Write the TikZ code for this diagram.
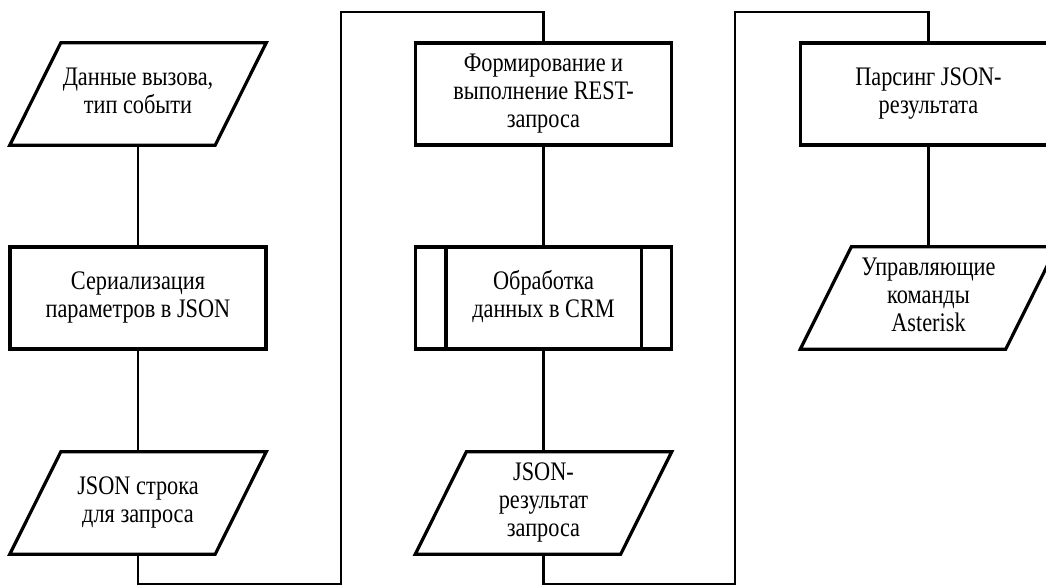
\documentclass[tikz,border=0pt]{standalone}
\usepackage{fontspec}
\setmainfont{Liberation Serif}
\usepackage{graphicx}
\usetikzlibrary{calc}
% node text: centred lines, set slightly tall
\newcommand{\tall}[1]{\scalebox{1}[1.2]{\begin{tabular}{@{}c@{}}#1\end{tabular}}}
\begin{document}
\begin{tikzpicture}[x=1pt,y=-1pt,
  txt/.style={minimum width=256pt, minimum height=102pt, inner sep=0pt,
    font=\fontsize{22.3}{23.3}\selectfont},
  procbox/.style={txt, draw, line width=3.2pt},
  iobox/.style={txt},
  frame/.style={line width=3.2pt},
  link/.style={line width=2.8pt}]
\clip (0,0) rectangle (1046,585);

% column 1
\node[iobox]   (in)   at (138,94)    {\tall{Данные вызова,\\тип событи}};
\node[procbox] (ser)  at (138,298)   {\tall{Сериализация\\параметров в JSON}};
\node[iobox]   (str)  at (138,503)   {\tall{JSON строка\\для запроса}};

% column 2
\node[procbox] (rest) at (543.5,94)  {\tall{Формирование и\\выполнение REST-\\запроса}};
\node[procbox] (crm)  at (543.5,298) {\tall{Обработка\\данных в CRM}};
\node[iobox]   (res)  at (543.5,503) {\tall{JSON-\\результат\\запроса}};

% column 3
\node[procbox] (pars) at (928.5,94)  {\tall{Парсинг JSON-\\результата}};
\node[iobox]   (cmd)  at (928.5,298) {\tall{Управляющие\\команды\\Asterisk}};

% parallelogram outlines of the data blocks
\foreach \n in {in,str,res,cmd}{
  \draw[frame] ($(\n.north west)+(51,0)$) -- (\n.north east)
    -- ($(\n.south east)-(51,0)$) -- (\n.south west) -- cycle;
}

% side bars of the predefined process
\draw[frame] ([xshift=32pt]crm.north west) -- ([xshift=32pt]crm.south west);
\draw[frame] ([xshift=-32pt]crm.north east) -- ([xshift=-32pt]crm.south east);

% routing points between the columns
\coordinate (low1)  at (341,584.5);
\coordinate (high1) at (341,12);
\coordinate (low2)  at (735,584.5);
\coordinate (high2) at (735,12);

% connectors
\draw[link] (in) -- (ser);
\draw[link] (ser) -- (str);
\draw[link] (str.south) |- (low1) -- (high1) -| (rest.north);
\draw[link] (rest) -- (crm);
\draw[link] (crm) -- (res);
\draw[link] (res.south) |- (low2) -- (high2) -| (pars.north);
\draw[link] (pars) -- (cmd);
\end{tikzpicture}
\end{document}
